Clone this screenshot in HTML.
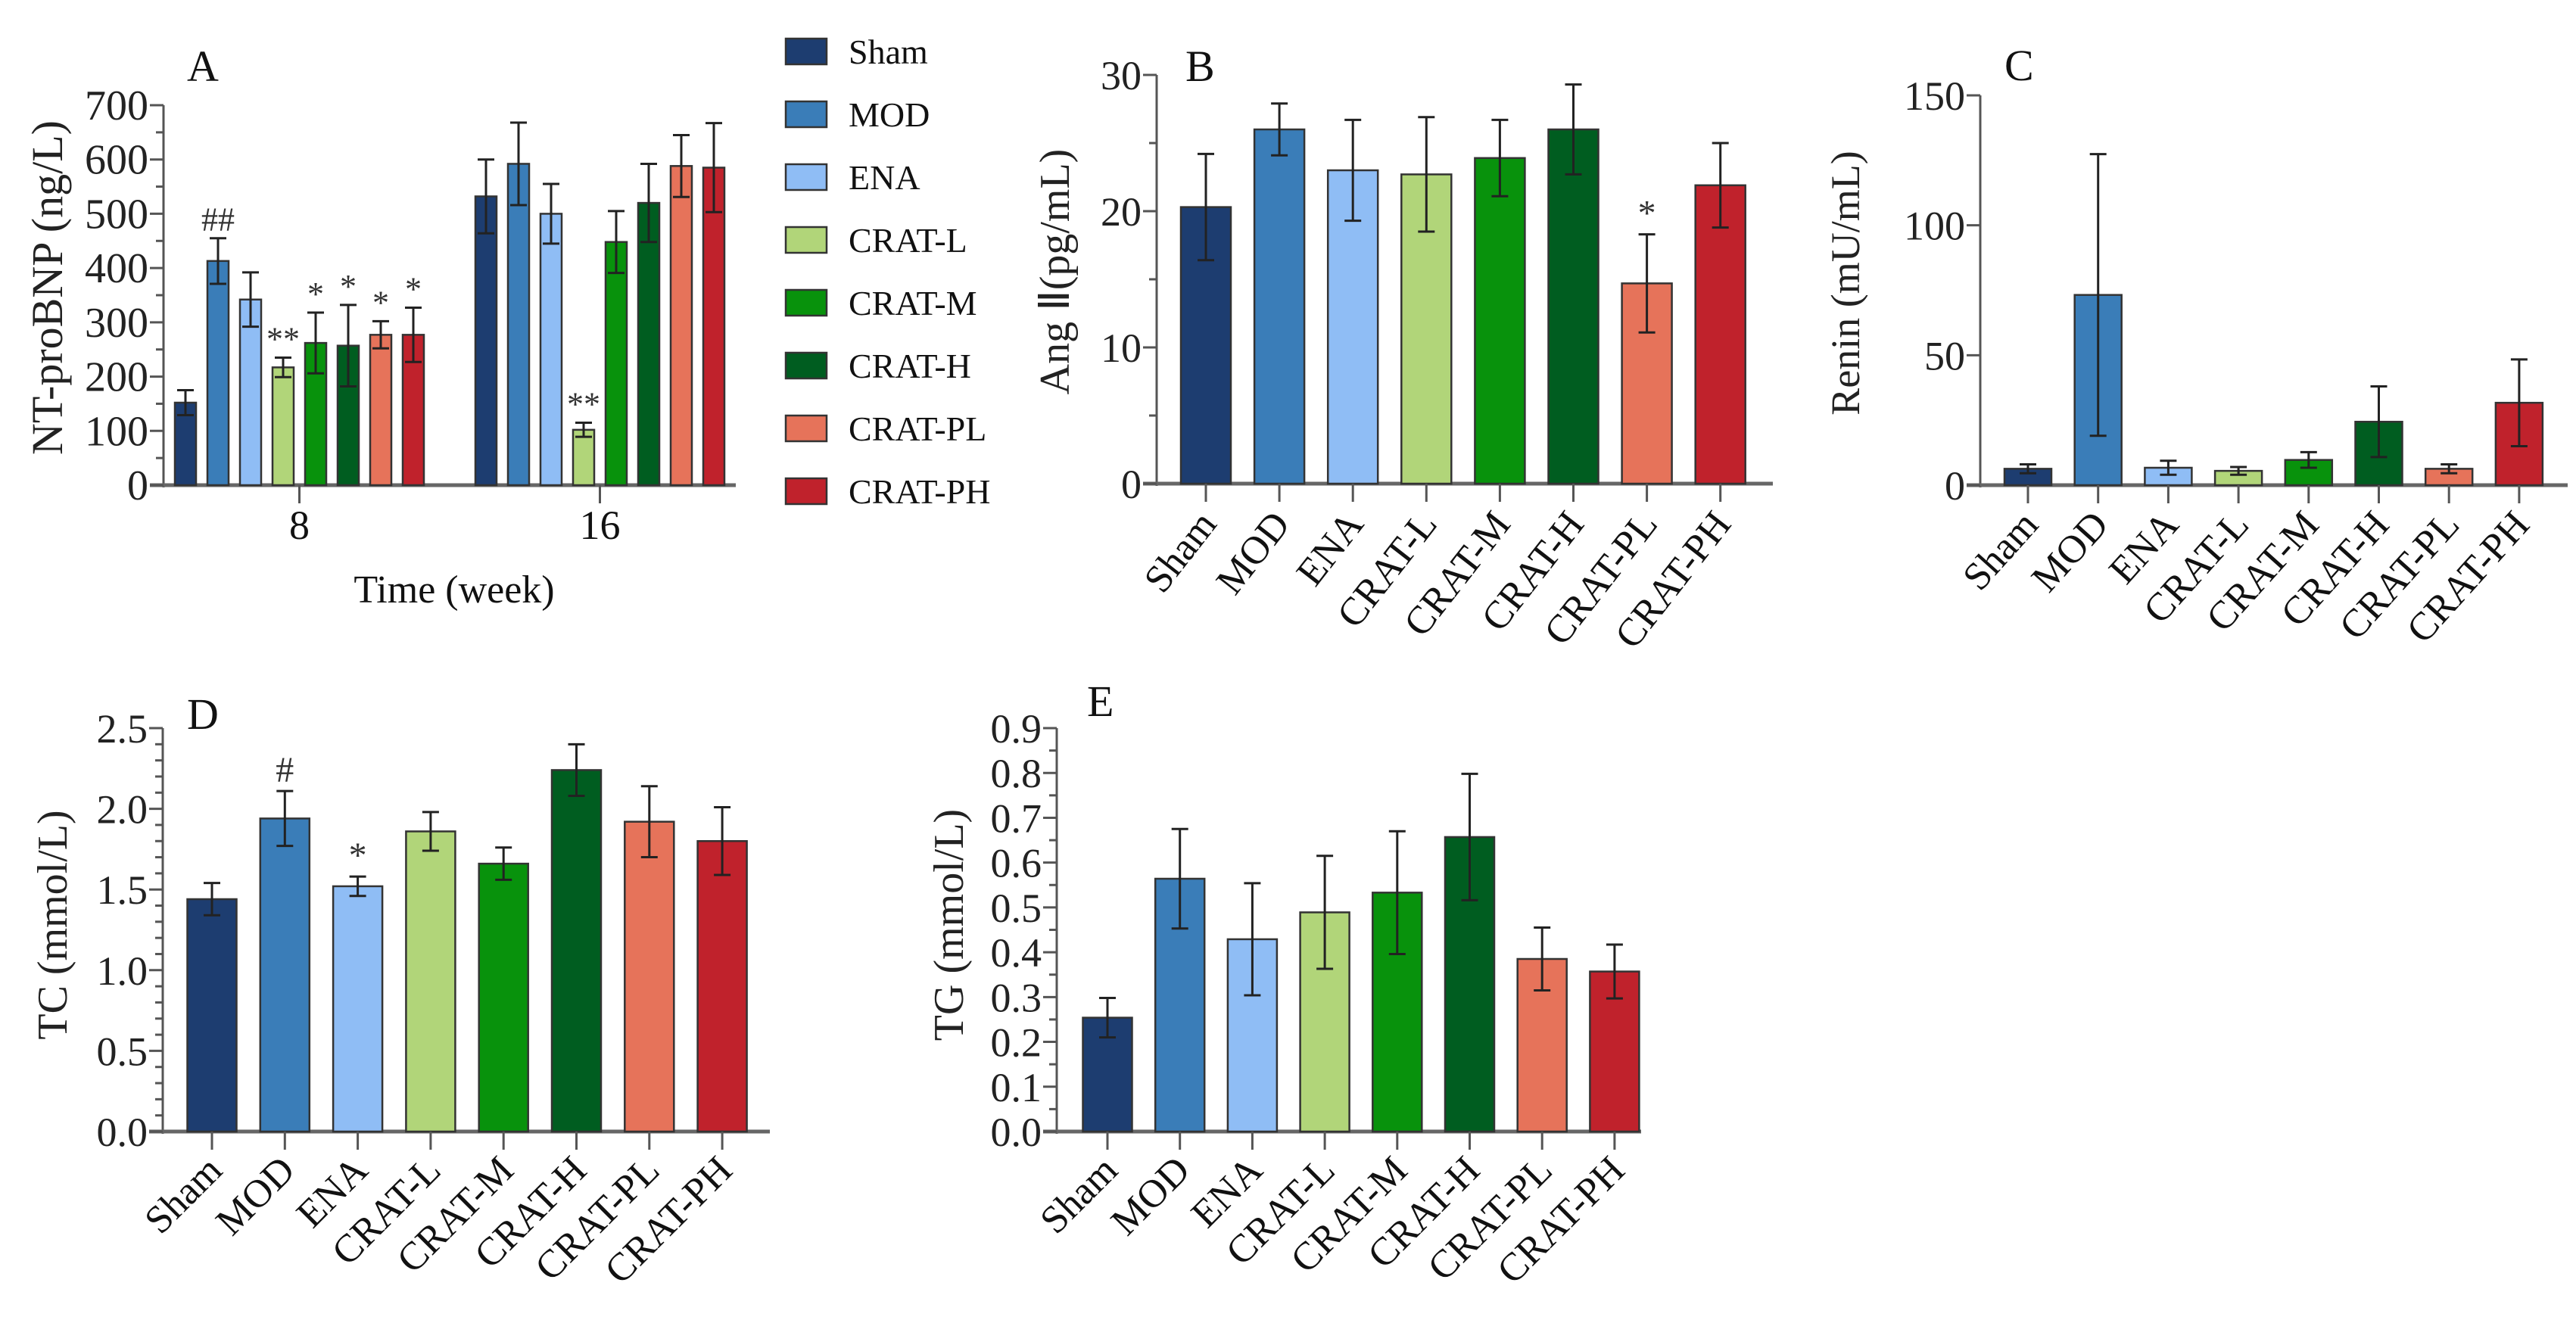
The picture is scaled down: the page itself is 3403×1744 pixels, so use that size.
<!DOCTYPE html>
<html><head><meta charset="utf-8"><style>
html,body{margin:0;padding:0;background:#fff;}
svg{display:block;font-family:"Liberation Serif",serif;}
</style></head><body>
<svg id="fig" width="3403" height="1744" viewBox="0 0 3403 1744" xmlns="http://www.w3.org/2000/svg"></svg>
<script>
const groups = ["Sham","MOD","ENA","CRAT-L","CRAT-M","CRAT-H","CRAT-PL","CRAT-PH"];
const colors = ["#1d3d70","#3a7db8","#8fbdf5","#b1d579","#08920c","#005d20","#e6735a","#c0222c"];
// Panel A (NT-proBNP), weeks 8 and 16
const weeksA = ["8","16"];
const aWeek8 = [152,413,342,217,262,257,277,277];
const aWeek8Err = [23,42,50,18,56,75,25,50];
const aWeek16 = [532,592,500,102,448,520,588,585];
const aWeek16Err = [68,76,55,13,57,72,57,82];
const aTicks = [0,100,200,300,400,500,600,700];
// Panel B (Ang II)
const bVals = [20.3,26.0,23.0,22.7,23.9,26.0,14.7,21.9];
const bErr = [3.9,1.9,3.7,4.2,2.8,3.3,3.6,3.1];
const bTicks = [0,10,20,30];
// Panel C (Renin)
const cVals = [6.3,73.2,6.7,5.5,9.7,24.4,6.3,31.7];
const cErr = [1.7,54.2,2.7,1.5,3.0,13.6,1.7,16.7];
const cTicks = [0,50,100,150];
// Panel D (TC)
const dVals = [1.44,1.94,1.52,1.86,1.66,2.24,1.92,1.80];
const dErr = [0.10,0.17,0.06,0.12,0.10,0.16,0.22,0.21];
const dTicks = ["0.0","0.5","1.0","1.5","2.0","2.5"];
// Panel E (TG)
const eVals = [0.254,0.564,0.429,0.489,0.533,0.657,0.385,0.357];
const eErr = [0.044,0.111,0.125,0.126,0.137,0.141,0.070,0.060];
const eTicks = ["0.0","0.1","0.2","0.3","0.4","0.5","0.6","0.7","0.8","0.9"];

const NS="http://www.w3.org/2000/svg";
const svg=document.getElementById('fig');
function mk(tag,attrs,parent){const e=document.createElementNS(NS,tag);for(const k in attrs)e.setAttribute(k,attrs[k]);(parent||svg).appendChild(e);return e;}
function txt(s,attrs,parent){const e=mk('text',attrs,parent);e.textContent=s;return e;}

function axisY(P,v){return P.y0-(v-P.min)/(P.max-P.min)*(P.y0-P.yTop);}

function drawAxes(P,g){
  const ax=mk('line',{x1:P.x0,y1:P.y0+3,x2:P.x0,y2:P.yTop,stroke:'#555','stroke-width':3},g);
  
  const xa=mk('line',{x1:P.x0-18,y1:P.y0,x2:P.xEnd,y2:P.y0,stroke:'#666','stroke-width':5},g);
  
  P.ticks.forEach((t,i)=>{
    const v=parseFloat(t);const y=axisY(P,v);
    mk('line',{x1:P.x0-18,y1:y,x2:P.x0,y2:y,stroke:'#555','stroke-width':3},g);
    const l=txt(String(t),{x:P.x0-20,y:y+19,'font-size':P.tf||54,'text-anchor':'end',fill:'#222'},g);
    
    if(P.minor&&i<P.ticks.length-1){
      const step=parseFloat(P.ticks[1])-parseFloat(P.ticks[0]);
      for(let k=1;k<P.minor;k++){const ym=axisY(P,v+step*k/P.minor);mk('line',{x1:P.x0-10,y1:ym,x2:P.x0,y2:ym,stroke:'#555','stroke-width':3},g);}
    }
  });
}

function drawBar(P,g,cx,val,err,color,name){
  const top=axisY(P,val);
  const r=mk('rect',{x:cx-P.bw/2,y:top,width:P.bw,height:P.y0-top,fill:color,stroke:'#333','stroke-width':2.5},g);
  
  const yt=axisY(P,val+err),yb=axisY(P,Math.max(P.min,val-err));
  const e=mk('path',{d:`M${cx} ${yt}V${yb}M${cx-11} ${yt}H${cx+11}M${cx-11} ${yb}H${cx+11}`,stroke:'#222','stroke-width':3,fill:'none'},g);
  
  return yt;
}

function drawCatPanel(id,P,vals,errs,title,ytitle,marks){
  const g=mk('g',{});
  drawAxes(P,g);
  groups.forEach((gr,i)=>{
    const cx=P.xFirst+i*P.sp;
    const yt=drawBar(P,g,cx,vals[i],errs[i],colors[i],'bar-'+gr.toLowerCase());
    mk('line',{x1:cx,y1:P.y0,x2:cx,y2:P.y0+24,stroke:'#555','stroke-width':3},g);
    const l=txt(gr,{x:0,y:0,'font-size':52,'text-anchor':'end',fill:'#111',transform:`translate(${cx+16},${P.y0+54}) rotate(${P.rot||-45})`},g);
    
    if(marks&&marks[i]){const m=txt(marks[i],{x:cx,y:yt-12,'font-size':48,'text-anchor':'middle',fill:'#333'},g);}
  });
  const t=txt(title,{x:P.tx,y:P.ty,'font-size':58,fill:'#111'},g);
  const yl=txt(ytitle,{x:0,y:0,'font-size':P.yf||56,'text-anchor':'middle',fill:'#222',transform:`translate(${P.ytx},${P.yty}) rotate(-90)`},g);
  
}

// Panel A
(function(){
  const P={x0:216,y0:641,yTop:139,xEnd:972,min:0,max:700,ticks:aTicks,minor:2,bw:28,tf:56};
  const g=mk('g',{});
  drawAxes(P,g);
  const starts=[245,642],sp=43;
  const data=[[aWeek8,aWeek8Err],[aWeek16,aWeek16Err]];
  const marks=[["","##","","**","*","*","*","*"],["","","","**","","","",""]];
  weeksA.forEach((w,wi)=>{
    groups.forEach((gr,i)=>{
      const cx=starts[wi]+i*sp;
      const yt=drawBar(P,g,cx,data[wi][0][i],data[wi][1][i],colors[i],'bar-'+gr.toLowerCase()+'-week'+w);
      if(marks[wi][i]){const m=txt(marks[wi][i],{x:cx,y:yt-10,'font-size':44,'text-anchor':'middle',fill:'#333'},g);}
    });
    const tc=starts[wi]+3.5*sp;
    mk('line',{x1:tc,y1:P.y0,x2:tc,y2:P.y0+24,stroke:'#555','stroke-width':3},g);
    const l=txt(w,{x:tc,y:712,'font-size':54,'text-anchor':'middle',fill:'#111'},g);
    
  });
  const xt=txt('Time (week)',{x:600,y:796,'font-size':52,'text-anchor':'middle',fill:'#111'},g);
  
  const t=txt('A',{x:247,y:107,'font-size':58,fill:'#111'},g);
  const yl=txt('NT-proBNP (ng/L)',{x:0,y:0,'font-size':58,'text-anchor':'middle',fill:'#222',transform:'translate(82,380) rotate(-90)'},g);
  
  // legend
  const lg=mk('g',{});
  groups.forEach((gr,i)=>{
    const y=51+i*83;
    const e=mk('g',{},lg);
    mk('rect',{x:1038,y:y,width:54,height:34,fill:colors[i],stroke:'#333','stroke-width':2.5},e);
    txt(gr,{x:1121,y:y+33,'font-size':46,fill:'#111'},e);
  });
})();

drawCatPanel('b',{x0:1528,y0:639,yTop:99,xEnd:2342,min:0,max:30,ticks:bTicks,minor:2,bw:66,xFirst:1593,sp:97.1,tx:1566,ty:107,ytx:1412,yty:359,rot:-52},bVals,bErr,'B','Ang Ⅱ(pg/mL)',["","","","","","","*",""]);
drawCatPanel('c',{x0:2616,y0:641,yTop:126,xEnd:3392,min:0,max:150,ticks:cTicks,minor:0,bw:62,xFirst:2679,sp:92.7,tx:2648,ty:106,ytx:2456,yty:374,yf:54,rot:-48},cVals,cErr,'C','Renin (mU/mL)',null);
drawCatPanel('d',{x0:215,y0:1495,yTop:962,xEnd:1017,min:0,max:2.5,ticks:dTicks,minor:5,bw:65,xFirst:280,sp:96.3,tx:247,ty:963,ytx:88,yty:1222},dVals,dErr,'D','TC (mmol/L)',["","#","*","","","","",""]);
drawCatPanel('e',{x0:1396,y0:1495,yTop:962,xEnd:2168,min:0,max:0.9,ticks:eTicks,minor:2,bw:65,xFirst:1463,sp:95.7,tx:1436,ty:946,ytx:1272,yty:1222},eVals,eErr,'E','TG (mmol/L)',null);
</script>
</body></html>
